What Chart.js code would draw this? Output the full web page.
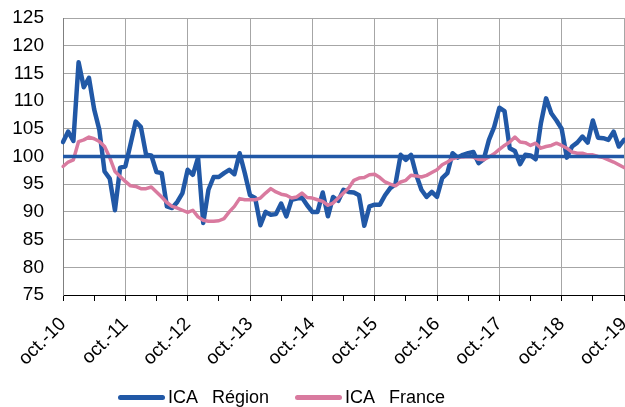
<!DOCTYPE html>
<html lang="fr">
<head>
<meta charset="utf-8">
<script src="https://cdn.jsdelivr.net/npm/chart.js@4.4.1/dist/chart.umd.min.js"></script>
<style>
html, body { margin: 0; padding: 0; background: #fff; }
#wrap { position: relative; width: 625px; height: 407px; overflow: hidden; }
#legend { font: 18px 'Liberation Sans', Arial, sans-serif; line-height: 18px; color: #000; }
.item { position: absolute; top: 388px; display: flex; align-items: center; white-space: pre; }
.swatch { display: inline-block; width: 47px; height: 5px; border-radius: 3px; margin-right: 3px; }
</style>
</head>
<body>
<div id="wrap">
  <canvas id="chart" width="625" height="407"></canvas>
  <div id="legend"></div>
</div>
<script>
// mois d'oct. 2010 à oct. 2019
const MONTH_NAMES = ['janv.', 'févr.', 'mars', 'avr.', 'mai', 'juin', 'juil.', 'août', 'sept.', 'oct.', 'nov.', 'déc.'];
const FIRST_YEAR = 2010;
const FIRST_MONTH = 9; // octobre
const N_MONTHS = 109;

const TICK_LABELS = ['oct.-10', 'oct.-11', 'oct.-12', 'oct.-13', 'oct.-14', 'oct.-15', 'oct.-16', 'oct.-17', 'oct.-18', 'oct.-19'];

const Y_MIN = 75;
const Y_MAX = 125;
const Y_STEP = 5;
const REF_LEVEL = 100;

// ICA Région
const icaRegion = [
    102.6, 104.5, 102.8, 117.0, 112.5, 114.2, 108.5, 104.8, 97.3, 96.0,
    90.3, 98.0, 98.2, 102.2, 106.3, 105.3, 100.3, 100.2, 97.2, 97.0,
    91.0, 90.7, 91.8, 93.4, 97.6, 96.7, 99.8, 88.0, 94.0, 96.3,
    96.3, 97.0, 97.6, 96.8, 100.6, 97.0, 93.0, 92.5, 87.6, 90.0,
    89.5, 89.6, 91.5, 89.2, 92.2, 92.4, 92.6, 91.2, 90.0, 90.0,
    93.5, 89.2, 92.7, 92.0, 94.0, 93.6, 93.5, 93.0, 87.5, 91.0,
    91.3, 91.3, 93.0, 94.3, 95.0, 100.3, 99.4, 100.3, 96.7, 94.0,
    92.7, 93.6, 92.7, 96.1, 97.0, 100.6, 99.8, 100.3, 100.6, 100.8,
    98.8, 99.5, 103.0, 105.3, 108.8, 108.2, 101.5, 101.0, 98.6, 100.3,
    100.2, 99.5, 106.0, 110.5, 107.8, 106.5, 105.0, 99.8, 101.8, 102.5,
    103.6, 102.5, 106.5, 103.4, 103.3, 103.0, 104.5, 101.8, 103.0
];

// ICA France
const icaFrance = [
    98.2, 99.0, 99.4, 102.7, 103.0, 103.5, 103.2, 102.7, 101.8, 99.8,
    97.3, 96.4, 95.5, 94.7, 94.6, 94.2, 94.2, 94.5, 93.6, 92.7,
    91.7, 91.0, 90.7, 90.3, 89.9, 90.3, 89.1, 88.5, 88.3, 88.3,
    88.4, 88.8, 90.0, 91.0, 92.4, 92.2, 92.2, 92.2, 92.5, 93.4,
    94.2, 93.6, 93.2, 93.0, 92.5, 92.7, 93.4, 92.6, 92.5, 92.2,
    91.9, 91.2, 91.6, 92.5, 93.4, 94.3, 95.7, 96.1, 96.2, 96.7,
    96.8, 96.2, 95.4, 95.0, 94.7, 95.4, 95.7, 96.6, 96.5, 96.3,
    96.6, 97.1, 97.6, 98.5, 99.0, 99.6, 99.9, 99.9, 100.0, 99.9,
    99.5, 99.4, 99.9, 100.5, 101.3, 102.0, 102.6, 103.5, 102.6, 102.5,
    102.0, 102.4, 101.5, 101.8, 102.0, 102.4, 102.0, 101.5, 100.8, 100.6,
    100.6, 100.3, 100.3, 100.0, 99.8, 99.4, 99.0, 98.5, 98.0
];

const categories = [];
for (let i = 0; i < N_MONTHS; i++) {
    const m = (FIRST_MONTH + i) % 12;
    const y = FIRST_YEAR + Math.floor((FIRST_MONTH + i) / 12);
    categories.push(MONTH_NAMES[m] + '-' + String(y).slice(2));
}

const BLUE = '#2158a6';
const PINK = '#d97a9f';
const GRID = '#a6a6a6';
const FONT = { family: "'Liberation Sans', Arial, sans-serif", size: 19 };

// trait horizontal à 100
const refLine = {
    id: 'refLine',
    afterDatasetsDraw(chart) {
        const { ctx, chartArea, scales } = chart;
        const y = scales.y.getPixelForValue(REF_LEVEL);
        ctx.save();
        ctx.strokeStyle = BLUE;
        ctx.lineWidth = 3.5;
        ctx.beginPath();
        ctx.moveTo(chartArea.left, y);
        ctx.lineTo(chartArea.right, y);
        ctx.stroke();
        ctx.restore();
    }
};

const datasets = [
    { label: 'ICA   Région', data: icaRegion, borderColor: BLUE, borderWidth: 4.5, order: 1 },
    { label: 'ICA   France', data: icaFrance, borderColor: PINK, borderWidth: 3.5, order: 0 }
];

new Chart(document.getElementById('chart'), {
    type: 'line',
    data: {
        labels: categories,
        datasets: datasets.map(d => ({
            ...d,
            fill: false,
            pointRadius: 0,
            tension: 0,
            borderJoinStyle: 'round',
            borderCapStyle: 'round'
        }))
    },
    options: {
        responsive: false,
        animation: false,
        layout: { padding: { top: 18, right: 1, left: 0, bottom: 0 } },
        plugins: {
            legend: { display: false },
            tooltip: { enabled: false }
        },
        scales: {
            x: {
                offset: false,
                grid: {
                    color: c => (c.index % 12 === 0 ? GRID : 'rgba(0,0,0,0)'),
                    tickColor: c => (c.index % 6 === 0 ? '#000' : 'rgba(0,0,0,0)'),
                    tickLength: 6
                },
                border: { color: '#000', width: 1 },
                ticks: {
                    autoSkip: false,
                    minRotation: 45,
                    maxRotation: 45,
                    padding: 12,
                    color: '#000',
                    font: FONT,
                    callback: (v, i) => (i % 12 === 0 ? TICK_LABELS[i / 12] : '')
                },
                afterFit: s => {
                    s.height = 112;
                    s.paddingLeft = 0;
                    s.paddingRight = 0;
                }
            },
            y: {
                min: Y_MIN,
                max: Y_MAX,
                ticks: { stepSize: Y_STEP, padding: 19, color: '#000', font: FONT },
                grid: { color: GRID, drawTicks: false },
                border: { color: '#7f7f7f', width: 1 },
                afterFit: s => {
                    s.width = 63;
                    s.paddingTop = 0;
                    s.paddingBottom = 0;
                }
            }
        }
    },
    plugins: [refLine]
});

// légende
const legend = document.getElementById('legend');
const LEGEND_LEFT = [118, 295];
datasets.forEach((d, i) => {
    const item = document.createElement('div');
    item.className = 'item';
    item.style.left = LEGEND_LEFT[i] + 'px';
    item.innerHTML = `<span class="swatch" style="background:${d.borderColor}"></span><span>${d.label}</span>`;
    legend.appendChild(item);
});
</script>
</body>
</html>
